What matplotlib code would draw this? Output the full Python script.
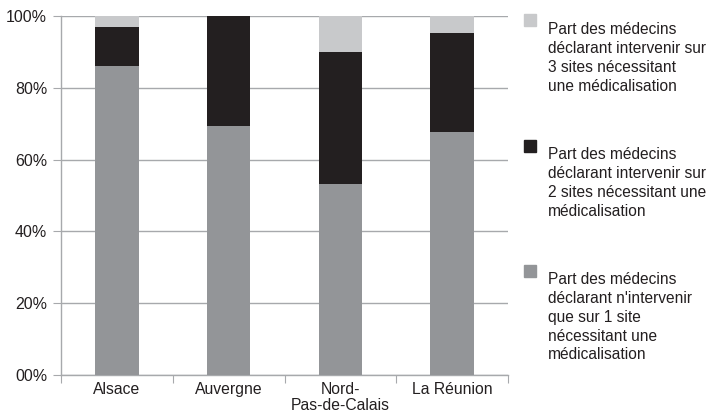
import matplotlib.pyplot as plt
from matplotlib.patches import Rectangle

plt.rcParams['font.family'] = ['Liberation Sans', 'DejaVu Sans']

regions = ['Alsace', 'Auvergne', 'Nord-\nPas-de-Calais', 'La Réunion']
un_site = [86.1, 69.4, 53.2, 67.8]
deux_sites = [10.8, 30.6, 36.9, 27.6]
trois_sites = [3.1, 0.0, 9.9, 4.6]

labels = [
    "Part des médecins\ndéclarant intervenir sur\n3 sites nécessitant\nune médicalisation",
    "Part des médecins\ndéclarant intervenir sur\n2 sites nécessitant une\nmédicalisation",
    "Part des médecins\ndéclarant n'intervenir\nque sur 1 site\nnécessitant une\nmédicalisation",
]
c_light = '#c8c9cb'
c_dark = '#231f20'
c_mid = '#939598'
c_grid = '#a7a9ac'

fig = plt.figure(figsize=(7.09, 4.18), dpi=100)
ax = fig.add_axes([61 / 709, 1 - 375 / 418, 447 / 709, 359 / 418])

x = range(len(regions))
w = 0.39
b3 = [a + b for a, b in zip(un_site, deux_sites)]
ax.bar(x, un_site, w, color=c_mid, zorder=3)
ax.bar(x, deux_sites, w, bottom=un_site, color=c_dark, zorder=3)
ax.bar(x, trois_sites, w, bottom=b3, color=c_light, zorder=3)

ax.set_xlim(-0.5, 3.5)
ax.set_ylim(0, 100)
ax.set_yticks([0, 20, 40, 60, 80, 100])
ax.set_yticklabels(['00%', '20%', '40%', '60%', '80%', '100%'], fontsize=11.5,
                   color='#231f20')
ax.yaxis.grid(True, color=c_grid, linewidth=1, zorder=0)
ax.set_xticks([-0.5, 0.5, 1.5, 2.5, 3.5])
ax.set_xticklabels([])
ax.set_xticks(list(x), minor=True)
ax.set_xticklabels(regions, minor=True, fontsize=11.3, linespacing=1.1, color='#231f20')
ax.tick_params(axis='x', which='minor', length=0, pad=5)
ax.tick_params(axis='x', which='major', length=6, color=c_grid)
ax.tick_params(axis='y', length=6, color=c_grid, pad=4)
for s in ['top', 'right']:
    ax.spines[s].set_visible(False)
for s in ['left', 'bottom']:
    ax.spines[s].set_color(c_grid)
    ax.spines[s].set_linewidth(1)

colors = [c_light, c_dark, c_mid]
squares = [14, 140, 265]
text_tops = [22, 147, 272]
for lab, col, s, t in zip(labels, colors, squares, text_tops):
    fig.patches.append(Rectangle((524 / 709, 1 - (s + 12) / 418), 12 / 709, 12 / 418,
                                 transform=fig.transFigure, color=col, figure=fig))
    fig.text(548 / 709, 1 - t / 418, lab, fontsize=11.2, va='top', ha='left',
             linespacing=1.32, color='#231f20')

fig.savefig('out.png', dpi=100)
